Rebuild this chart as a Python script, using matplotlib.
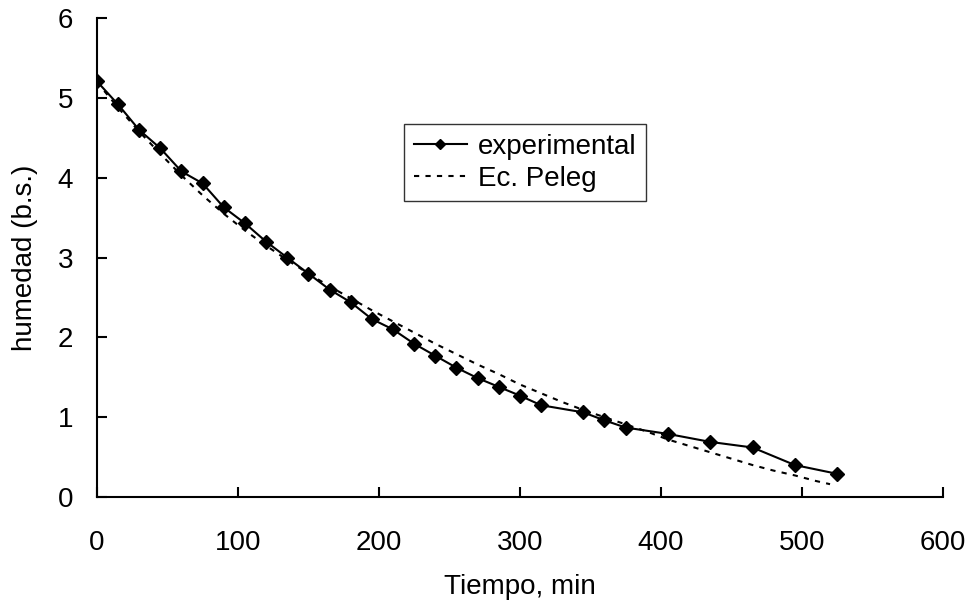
import matplotlib.pyplot as plt

plt.rcParams['font.family'] = ['Liberation Sans', 'DejaVu Sans']

# experimental data
t_exp = [0, 15, 30, 45, 60, 75, 90, 105, 120, 135, 150, 165, 180, 195, 210, 225,
         240, 255, 270, 285, 300, 315, 345, 360, 375, 405, 435, 465, 495, 525]
h_exp = [5.21, 4.92, 4.60, 4.37, 4.08, 3.93, 3.63, 3.43, 3.20, 3.00, 2.80, 2.60,
         2.44, 2.23, 2.10, 1.92, 1.77, 1.62, 1.49, 1.38, 1.27, 1.15, 1.06, 0.96,
         0.87, 0.79, 0.69, 0.62, 0.40, 0.29]

# Peleg model curve
t_peleg = [0, 15, 30, 45, 60, 75, 90, 105, 120, 135, 150, 165, 180, 195, 210, 225,
           240, 255, 270, 285, 300, 315, 330, 345, 360, 375, 390, 405, 420, 435,
           450, 465, 480, 495, 510, 520]
h_peleg = [5.20, 4.88, 4.58, 4.30, 4.03, 3.78, 3.55, 3.34, 3.15, 2.97, 2.80, 2.64,
           2.49, 2.34, 2.20, 2.06, 1.92, 1.79, 1.66, 1.54, 1.41, 1.30, 1.19, 1.09,
           1.00, 0.91, 0.82, 0.72, 0.64, 0.56, 0.48, 0.40, 0.33, 0.27, 0.20, 0.16]

fig = plt.figure(figsize=(9.69, 6.09), dpi=100)
ax = fig.add_axes([0.1, 0.184, 0.873, 0.786])

ax.plot(t_exp, h_exp, color='black', lw=1.5, marker='D', markersize=7,
        label='experimental')
ax.plot(t_peleg, h_peleg, color='black', lw=1.5, linestyle=(0, (2.5, 3)),
        label='Ec. Peleg')

ax.set_xlim(0, 600)
ax.set_ylim(0, 6)
ax.set_xticks(range(0, 601, 100))
ax.set_yticks(range(0, 7))
ax.spines['top'].set_visible(False)
ax.spines['right'].set_visible(False)
ax.spines['left'].set_linewidth(1.5)
ax.spines['bottom'].set_linewidth(1.5)
ax.tick_params(direction='in', length=7, width=1.5, labelsize=20)
ax.tick_params(axis='x', pad=24)
ax.tick_params(axis='y', pad=17)

ax.set_xlabel('Tiempo, min', fontsize=20, labelpad=13)
ax.set_ylabel('humedad (b.s.)', fontsize=20, labelpad=14)

leg = ax.legend(loc='upper left', bbox_to_anchor=(0.417, 0.796),
                bbox_transform=fig.transFigure, borderaxespad=0,
                fontsize=20, frameon=True, fancybox=False, handlelength=1.9,
                handletextpad=0.4, borderpad=0.35, labelspacing=0.2,
                markerscale=0.8)
leg.get_frame().set_edgecolor('black')
leg.get_frame().set_linewidth(1)

fig.savefig('out.png', dpi=100)
